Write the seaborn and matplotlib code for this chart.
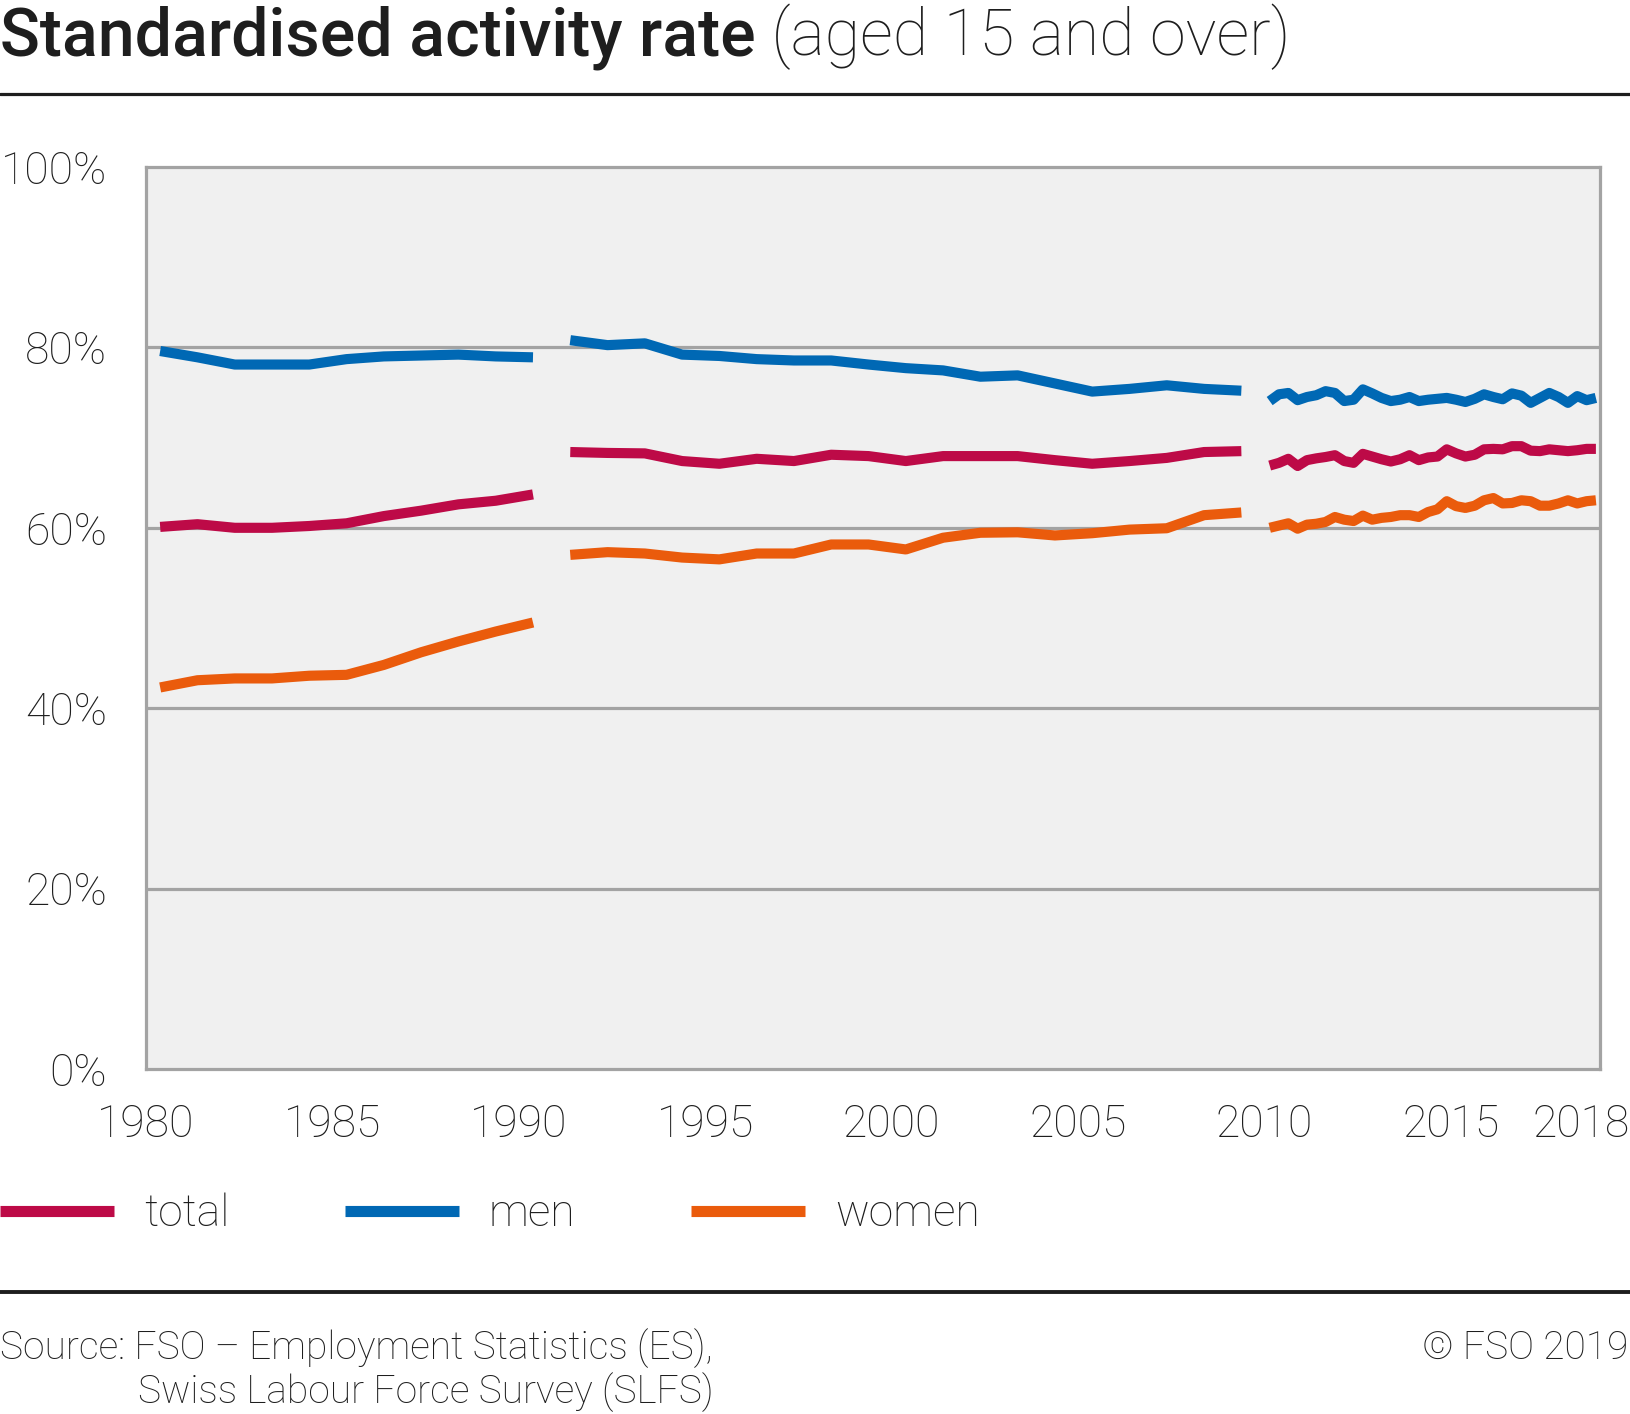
import numpy as np
import pandas as pd
import matplotlib
matplotlib.use("Agg")
import matplotlib.pyplot as plt
from matplotlib.lines import Line2D
import seaborn as sns

# values (percent)
years_es = list(range(1980, 1991))
total_es = [60.1, 60.4, 60.0, 60.0, 60.2, 60.5, 61.3, 61.9, 62.6, 63.0, 63.7]
men_es = [79.6, 78.9, 78.1, 78.1, 78.1, 78.7, 79.0, 79.1, 79.2, 79.0, 78.9]
women_es = [42.3, 43.1, 43.3, 43.3, 43.6, 43.7, 44.8, 46.2, 47.4, 48.5, 49.5]

years_slfs = list(range(1991, 2010))
total_slfs = [68.4, 68.3, 68.25, 67.4, 67.1, 67.65, 67.4, 68.1, 67.95, 67.4,
              67.95, 67.95, 67.95, 67.5, 67.1, 67.4, 67.75, 68.4, 68.5]
men_slfs = [80.8, 80.25, 80.45, 79.2, 79.05, 78.7, 78.55, 78.55, 78.1, 77.7,
            77.45, 76.75, 76.9, 76.0, 75.1, 75.4, 75.8, 75.4, 75.2]
women_slfs = [57.0, 57.3, 57.15, 56.7, 56.5, 57.15, 57.15, 58.15, 58.15, 57.6,
              58.9, 59.45, 59.5, 59.15, 59.4, 59.8, 59.95, 61.4, 61.7]

quarters = [f"{y}Q{q}" for y in range(2010, 2019) for q in range(1, 5)]
total_q = [66.9, 67.2, 67.65, 66.85, 67.5, 67.7, 67.85, 68.05, 67.4, 67.2,
           68.2, 67.9, 67.6, 67.35, 67.6, 68.05, 67.5, 67.8, 67.9, 68.7,
           68.25, 67.9, 68.1, 68.7, 68.75, 68.7, 69.05, 69.05, 68.55, 68.5,
           68.7, 68.6, 68.5, 68.6, 68.75, 68.75]
men_q = [74.05, 74.8, 74.95, 74.15, 74.5, 74.7, 75.15, 74.95, 74.05, 74.2,
         75.35, 74.9, 74.4, 74.05, 74.2, 74.5, 74.05, 74.2, 74.3, 74.4,
         74.2, 73.95, 74.3, 74.8, 74.5, 74.25, 74.9, 74.65, 73.85, 74.4,
         74.95, 74.5, 73.85, 74.6, 74.15, 74.4]
women_q = [60.0, 60.25, 60.5, 59.9, 60.35, 60.45, 60.65, 61.2, 60.9, 60.75,
           61.35, 60.9, 61.1, 61.2, 61.4, 61.4, 61.2, 61.75, 62.05, 62.95,
           62.4, 62.2, 62.45, 63.05, 63.3, 62.7, 62.75, 63.05, 62.95, 62.45,
           62.45, 62.7, 63.05, 62.7, 62.95, 63.05]

series_names = ["total", "men", "women"]
colors = ["#bd0a47", "#0068b4", "#ea5b0c"]
xtick_years = [1980, 1985, 1990, 1995, 2000, 2005, 2010, 2015]
ytick_vals = [0, 20, 40, 60, 80, 100]

# long table, one unit per survey segment so the gaps stay
rows = []
def add(seg, xs, vals, name):
    for x, v in zip(xs, vals):
        rows.append({"t": x, "rate": v, "series": name, "seg": seg})

pos_es = [y + 0.38 for y in years_es]
pos_slfs = [y + 0.38 for y in years_slfs]
pos_q = [int(q[:4]) + (int(q[-1]) - 1) / 4 + 0.14 for q in quarters]
for name, a, b, c in zip(series_names,
                         [total_es, men_es, women_es],
                         [total_slfs, men_slfs, women_slfs],
                         [total_q, men_q, women_q]):
    add("es", pos_es, a, name)
    add("slfs", pos_slfs, b, name)
    add("q", pos_q, c, name)
df = pd.DataFrame(rows)

sns.set_style("white")
plt.rcParams["font.family"] = ["Roboto", "DejaVu Sans"]
plt.rcParams["text.color"] = "#1e1e1e"

W, H = 1630, 1414
fig = plt.figure(figsize=(W / 100, H / 100), dpi=100)
ax = fig.add_axes([146 / W, 1 - 1069 / H, (1600 - 146) / W, (1069 - 167) / H])
ax.set_facecolor("#f0f0f0")

gray = "#a3a3a3"
for v in ytick_vals[1:-1]:
    ax.axhline(v, color=gray, lw=2.3, zorder=1)

sns.lineplot(data=df, x="t", y="rate", hue="series", hue_order=series_names,
             palette=colors, units="seg", estimator=None, lw=7.3,
             solid_capstyle="butt", ax=ax, zorder=3)

ax.set_xlim(1980, 2019)
ax.set_ylim(0, 100)
ax.set_xlabel("")
ax.set_ylabel("")

for s in ax.spines.values():
    s.set_color(gray)
    s.set_linewidth(2.3)
    s.set_visible(True)

ax.set_yticks(ytick_vals)
ax.set_yticklabels([f"{v}%" for v in ytick_vals])
ax.tick_params(axis="y", length=8, width=2.3, color=gray, pad=20,
               labelsize=32, labelcolor="#1e1e1e")

ax.set_xticks(xtick_years + [2018.5])
ax.set_xticklabels([str(y) for y in xtick_years] + ["2018"])
ax.set_xticks(range(1980, 2020), minor=True)
ax.tick_params(axis="x", which="major", length=7, width=2.3, color=gray,
               pad=18, labelsize=32, labelcolor="#1e1e1e")
ax.tick_params(axis="x", which="minor", length=3, width=2.3, color=gray)
ax.xaxis.get_major_ticks()[-1].tick1line.set_visible(False)
for lab in ax.get_xticklabels() + ax.get_yticklabels():
    lab.set_fontweight("light")

# legend below the plot
handles, labels = ax.get_legend_handles_labels()
ax.get_legend().remove()
leg = fig.legend(handles, labels, loc="center left",
                 bbox_to_anchor=(0, 1 - 1214 / H), bbox_transform=fig.transFigure,
                 ncol=3, frameon=False, borderaxespad=0, borderpad=0,
                 handlelength=2.56, handletextpad=0.68, columnspacing=2.6,
                 prop={"size": 32, "weight": "light"})
for ln in leg.get_lines():
    ln.set_linewidth(8)
    ln.set_solid_capstyle("butt")

# title in two weights
t1 = fig.text(0.0, 1 - 55 / H, "Standardised activity rate", fontsize=47.7,
              fontweight="medium", va="baseline", ha="left")
fig.canvas.draw()
bb = t1.get_window_extent()
fig.text(bb.x1 / W, 1 - 55 / H, " (aged 15 and over)", fontsize=46.5,
         fontweight="light", va="baseline", ha="left")

# rules
fig.add_artist(Line2D([0, 1], [1 - 94 / H] * 2, transform=fig.transFigure,
                      color="#1e1e1e", lw=2.3))
fig.add_artist(Line2D([0, 1], [1 - 1292 / H] * 2, transform=fig.transFigure,
                      color="#1e1e1e", lw=2.8))

# source and copyright
fig.text(0.0, 1 - 1359 / H, "Source: FSO – Employment Statistics (ES),",
         fontsize=28, fontweight="light", va="baseline")
fig.text(138 / W, 1 - 1403 / H, "Swiss Labour Force Survey (SLFS)",
         fontsize=28, fontweight="light", va="baseline")
fig.text(1628 / W, 1 - 1359 / H, "© FSO 2019", fontsize=28,
         fontweight="light", va="baseline", ha="right")

fig.savefig("out.png", dpi=100)
